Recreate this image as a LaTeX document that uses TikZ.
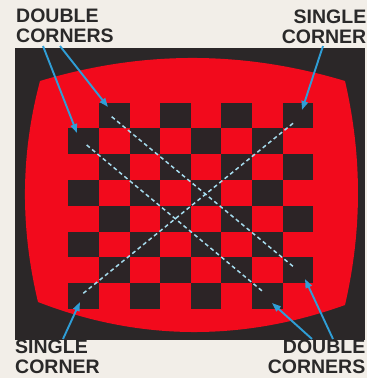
\documentclass[tikz,border=0pt]{standalone}
\usepackage{fontspec}
\setmainfont{Liberation Sans}
\usetikzlibrary{arrows.meta}
\definecolor{paper}{HTML}{F2EEE8}
\definecolor{panel}{HTML}{2B2728}
\definecolor{screenred}{HTML}{F20A1C}
\definecolor{sq}{HTML}{2C2426}
\definecolor{arrowblue}{HTML}{2F9ED6}
\definecolor{dashblue}{HTML}{A6DCEE}
\definecolor{ink}{HTML}{2A2929}
\tikzset{
  lbl/.style={inner sep=0pt, text=ink, font=\fontsize{19.5}{19.2}\selectfont\bfseries},
  pointer/.style={draw=arrowblue, line width=1.9pt, -{Triangle[length=9pt,width=6.5pt]}},
  diag/.style={draw=dashblue, line width=1.5pt, dash pattern=on 4pt off 3pt},
  square/.style={fill=sq}
}
\begin{document}
\begin{tikzpicture}[x=1pt,y=-1pt]
\useasboundingbox (0,0) rectangle (367,378);
\fill[paper] (0,0) rectangle (367,378);
% panel
\fill[panel] (15,48) rectangle (365,340);
% red screen
\fill[screenred] (40,81) .. controls (142,50.3) and (243,50.3) .. (345,81)
  .. controls (362.3,156) and (362.3,230) .. (345,305)
  .. controls (243,341.5) and (140,341.5) .. (38,302)
  .. controls (20.3,228) and (20.3,155) .. (40,81) -- cycle;
% board squares (black where row+col odd)
\foreach \r in {0,...,7}{
  \foreach \c in {0,...,7}{
    \pgfmathparse{int(mod(\r+\c,2))}
    \ifnum\pgfmathresult=1
      \fill[square] (68.3+\c*30.625,102.7+\r*25.79) rectangle ++(30.625,25.79);
    \fi
  }
}
% diagonal endpoints
\coordinate (d1a) at (111.7,116.7);
\coordinate (d1b) at (295,268);
\coordinate (d2a) at (86.7,145);
\coordinate (d2b) at (263,291.7);
\coordinate (d3a) at (83.3,293.3);
\coordinate (d3b) at (295,121.7);
\draw[diag] (d1a) -- (d1b);
\draw[diag] (d2a) -- (d2b);
\draw[diag] (d3a) -- (d3b);
% labels
\node[lbl, anchor=north west, align=left] (dcTop) at (16,9) {DOUBLE\\CORNERS};
\node[lbl, anchor=north east, align=right] (scTop) at (366.5,10) {SINGLE\\CORNER};
\node[lbl, anchor=north west, align=left] (scBot) at (15,340) {SINGLE\\CORNER};
\node[lbl, anchor=north east, align=right] (dcBot) at (365.5,340) {DOUBLE\\CORNERS};
% arrow ends
\coordinate (s1) at (43,46);
\coordinate (s2) at (60,46);
\coordinate (s3) at (323,46);
\coordinate (s4) at (63,339);
\coordinate (s5) at (312,339);
\coordinate (s6) at (333,339);
\coordinate (t1) at (77,133);
\coordinate (t2) at (108,107);
\coordinate (t3) at (302,110);
\coordinate (t4) at (80,302);
\coordinate (t5) at (272,303);
\coordinate (t6) at (305,279);
\draw[pointer] (s1) -- (t1);
\draw[pointer] (s2) -- (t2);
\draw[pointer] (s3) -- (t3);
\draw[pointer] (s4) -- (t4);
\draw[pointer] (s5) -- (t5);
\draw[pointer] (s6) -- (t6);
\end{tikzpicture}
\end{document}
